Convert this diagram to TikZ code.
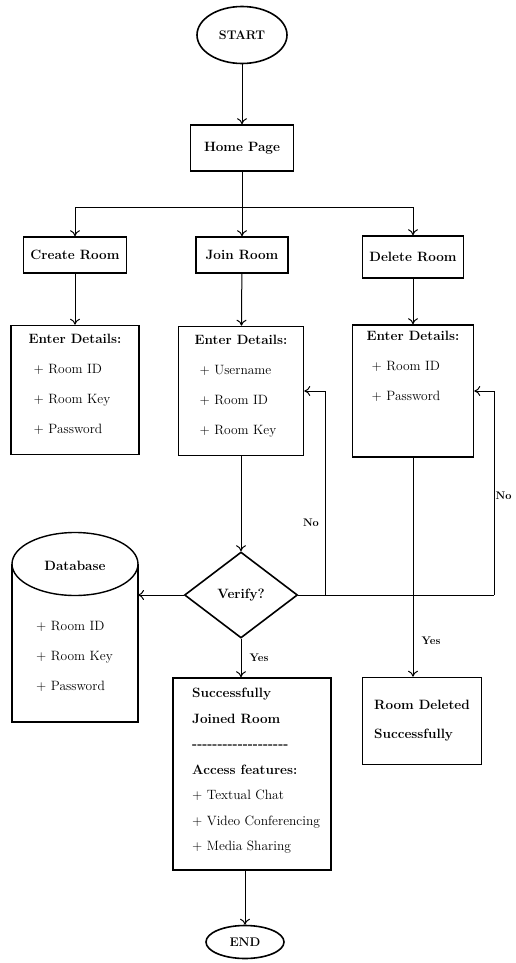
\documentclass[tikz,border=0pt]{standalone}
\usepackage{tikz}
\usetikzlibrary{arrows.meta,shapes,positioning}

\tikzset{
  box/.style={draw, line width=1.6pt, rectangle, inner sep=2pt},
  term/.style={draw, line width=1.6pt, ellipse, inner sep=0pt, font=\fontsize{12.5}{14}\selectfont\bfseries},
  head/.style={font=\fontsize{13.5}{15}\selectfont\bfseries},
  lst/.style={align=left, font=\fontsize{13.5}{30}\selectfont, inner sep=0pt},
  flow/.style={line width=1pt, ->},
  lbl/.style={font=\fontsize{11}{13}\selectfont\bfseries}
}
\newcommand{\itm}{\hspace*{5pt}+\ }

\begin{document}
\begin{tikzpicture}[x=1pt, y=-1pt, >={To[length=6pt,width=10pt]}]
      \useasboundingbox (0,0) rectangle (515,963);

      % Top part
      \node[term, minimum width=90, minimum height=57] (start) at (242,35) {START};
      \node[box, head, minimum width=103, minimum height=46] (home) at (242,148) {Home Page};
      \node[box, head, minimum width=103, minimum height=36] (create) at (75,255) {Create Room};
      \node[box, head, minimum width=92, minimum height=36] (join) at (242,255) {Join Room};
      \node[box, head, minimum width=101, minimum height=42] (delete) at (413,257) {Delete Room};
      \coordinate (bus) at (242,207);

      \draw[flow] (start) -- (home);
      \draw[line width=1pt] (home) -- (bus);
      \draw[flow] (bus) -| (create.north);
      \draw[flow] (bus) -- (join);
      \draw[flow] (bus) -| (delete.north);

      % Details
      \node[box, minimum width=128, minimum height=129] (cdet) at (75,390) {};
      \node[lst, below=9pt of cdet.north] {\textbf{Enter Details:}\\ \itm Room ID\\ \itm Room Key\\ \itm Password};
      \node[box, minimum width=125, minimum height=129] (jdet) at (241,391) {};
      \node[lst, below=9pt of jdet.north] {\textbf{Enter Details:}\\ \itm Username\\ \itm Room ID\\ \itm Room Key};
      \node[box, minimum width=121, minimum height=132] (ddet) at (413,391) {};
      \node[lst, below=7pt of ddet.north] {\textbf{Enter Details:}\\ \itm Room ID\\ \itm Password\\ \phantom{Password}};

      \draw[flow] (create) -- (cdet);
      \draw[flow] (join) -- (jdet);
      \draw[flow] (delete) -- (ddet);

      % Verify
      \node[draw, line width=1.6pt, diamond, head, inner sep=0pt, minimum width=113, minimum height=86] (verify) at (241,595) {Verify?};
      \draw[flow] (jdet) -- (verify);

      % Database
      \draw[line width=1.4pt] (12,564) -- (12,722) -- (138,722) -- (138,564);
      \draw[line width=1.4pt, fill=white] (75,564) ellipse [x radius=63pt, y radius=31.5pt];
      \node[head] (db) at (75,566) {Database};
      \node[lst, anchor=north west] (dblist) at (36,621) {+ Room ID\\ + Room Key\\ + Password};
      \coordinate (dbside) at (138,595);
      \draw[flow] (verify) -- (dbside);

      % No branches
      \coordinate (noJ) at (325,595);
      \coordinate (noD) at (494,595);
      \draw[line width=1pt] (verify.east) -- (noD);
      \draw[flow] (noJ) |- (jdet.east);
      \draw[flow] (noD) |- (ddet.east);
      \node[lbl] (noa) at (311,523) {No};
      \node[lbl, anchor=east] (nob) at (515,496) {No};

      % Results
      \node[box, minimum width=158, minimum height=192] (joined) at (252,774) {};
      \node[align=left, inner sep=0pt, font=\fontsize{13.5}{25.5}\selectfont, anchor=north west] (jtext) at (192,688)
        {\textbf{Successfully}\\ \textbf{Joined Room}\\ \textbf{-{}-{}-{}-{}-{}-{}-{}-{}-{}-{}-{}-{}-{}-{}-{}-{}-{}-{}-{}}\\ \textbf{Access features:}\\ + Textual Chat\\ + Video Conferencing\\ + Media Sharing};
      \node[box, head, align=left, minimum width=119, minimum height=87, font=\fontsize{13.5}{29}\selectfont\bfseries] (deleted) at (422,721) {Room Deleted\\ Successfully};

      \draw[flow] (verify.south) -- (verify.south |- joined.north);
      \node[lbl] (yesa) at (259,658) {Yes};
      \draw[flow] (ddet.south) -- (ddet.south |- deleted.north);
      \node[lbl] (yesb) at (431,641) {Yes};

      % End
      \node[term, minimum width=78, minimum height=33] (end) at (245,942) {END};
      \draw[flow] (end.north |- joined.south) -- (end);
    \end{tikzpicture}
\end{document}
